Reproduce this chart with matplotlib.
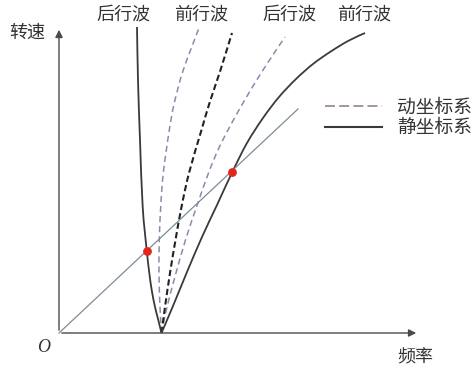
"""Campbell diagram: rotating vs. stationary frame wave frequencies."""

import numpy as np
import matplotlib.pyplot as plt
from matplotlib.lines import Line2D
from matplotlib.path import Path
from matplotlib.patches import PathPatch

plt.rcParams["font.family"] = ["Noto Sans CJK SC", "DejaVu Sans"]

# frequency / speed (arbitrary units, origin at O)
back_static_f = [102.5, 99.3, 96, 92.7, 90.3, 87.7, 83.7, 81, 79, 78]
back_static_s = [0, 13, 26, 43, 60, 83, 126, 193, 253, 306]

back_rot_f = [102.5, 101, 100, 100.3, 101.7, 104.3, 110.3, 115.3, 124.3, 140]
back_rot_s = [0, 26, 60, 93, 126, 160, 203, 230, 263, 305]

fwd_rot_f = [102.5, 106, 111, 116.5, 122.5, 130, 142.5, 150.5, 161.5, 173]
fwd_rot_s = [0, 26, 60, 93, 126, 160, 203, 230, 263, 300]

back_rot2_f = [102.5, 108, 117, 126.5, 137.5, 149.5, 159, 169, 184, 204, 226]
back_rot2_s = [0, 26, 60, 93, 126, 160, 183, 203, 230, 263, 296]

fwd_static_f = [102.5, 114, 128, 143, 158, 173.3, 188, 204, 220, 237, 254, 271, 289, 306]
fwd_static_s = [0, 27, 61, 96, 128, 161, 190, 215, 236, 254, 269, 281, 292, 300]

speed_line_f = [0, 239]
speed_line_s = [0, 224]

cross_f = [87.7, 173.3]
cross_s = [82, 161]

wave_labels = ["后行波", "前行波", "后行波", "前行波"]
wave_label_f = [64, 142, 230, 305]
legend_labels = ["动坐标系", "静坐标系"]


def smooth_path(f, s):
    # Catmull-Rom through the read points, drawn as cubic Bezier segments
    pts = np.column_stack([f, s]).astype(float)
    ext = np.vstack([pts[0], pts, pts[-1]])
    verts = [pts[0]]
    codes = [Path.MOVETO]
    for i in range(len(pts) - 1):
        p0, p1, p2, p3 = ext[i], ext[i + 1], ext[i + 2], ext[i + 3]
        verts += [p1 + (p2 - p0) / 6, p2 - (p3 - p1) / 6, p2]
        codes += [Path.CURVE4] * 3
    return Path(verts, codes)


def curve(ax, f, s, **kw):
    ax.add_patch(PathPatch(smooth_path(f, s), fill=False, capstyle="butt", **kw))


fig = plt.figure(figsize=(4.75, 3.69), dpi=100)
ax = fig.add_axes([0, 0, 1, 1])
ax.set_xlim(-59, 416)
ax.set_ylim(-36, 333)
ax.axis("off")

ink = "#3a3a3a"
light = "#9088a8"

ax.annotate("", xy=(360, 0), xytext=(0, 0),
            arrowprops=dict(arrowstyle="-|>", color="#4a4a4a", lw=1.0, mutation_scale=11))
ax.annotate("", xy=(0, 306), xytext=(0, 0),
            arrowprops=dict(arrowstyle="-|>", color="#4a4a4a", lw=1.0, mutation_scale=11))

ax.plot(speed_line_f, speed_line_s, color="#7d8c98", lw=0.9)
curve(ax, back_rot_f, back_rot_s, edgecolor=light, lw=1.1, linestyle=(0, (4, 2.6)))
curve(ax, back_rot2_f, back_rot2_s, edgecolor=light, lw=1.1, linestyle=(0, (4, 2.6)))
curve(ax, fwd_rot_f, fwd_rot_s, edgecolor="#222222", lw=1.5, linestyle=(0, (3, 1.6)))
curve(ax, back_static_f, back_static_s, edgecolor=ink, lw=1.3)
curve(ax, fwd_static_f, fwd_static_s, edgecolor=ink, lw=1.3)
ax.scatter(cross_f, cross_s, s=40, color="#e3261c", zorder=5, linewidths=0)

for label, f in zip(wave_labels, wave_label_f):
    ax.text(f, 318, label, ha="center", va="center", fontsize=13, color="#333333")

ax.text(-32, 300, "转速", ha="center", va="center", fontsize=13, color="#333333")
ax.text(338, -24, "频率", ha="left", va="center", fontsize=13, color="#333333")
ax.text(-15, -14, "O", ha="center", va="center", fontsize=13, color="#333333",
        family="Liberation Serif", style="italic")

handles = [Line2D([], [], color="#9a8484", lw=1.2, dashes=(6, 2.5)),
           Line2D([], [], color=ink, lw=1.5)]
fig.legend(handles, legend_labels, loc="upper left", bbox_to_anchor=(325 / 475, 1 - 97 / 369),
           frameon=False, fontsize=13.5, handlelength=3.05, handletextpad=0.8,
           labelspacing=-0.05, borderpad=0, borderaxespad=0, labelcolor="#333333")

fig.savefig("out.png", dpi=100)
